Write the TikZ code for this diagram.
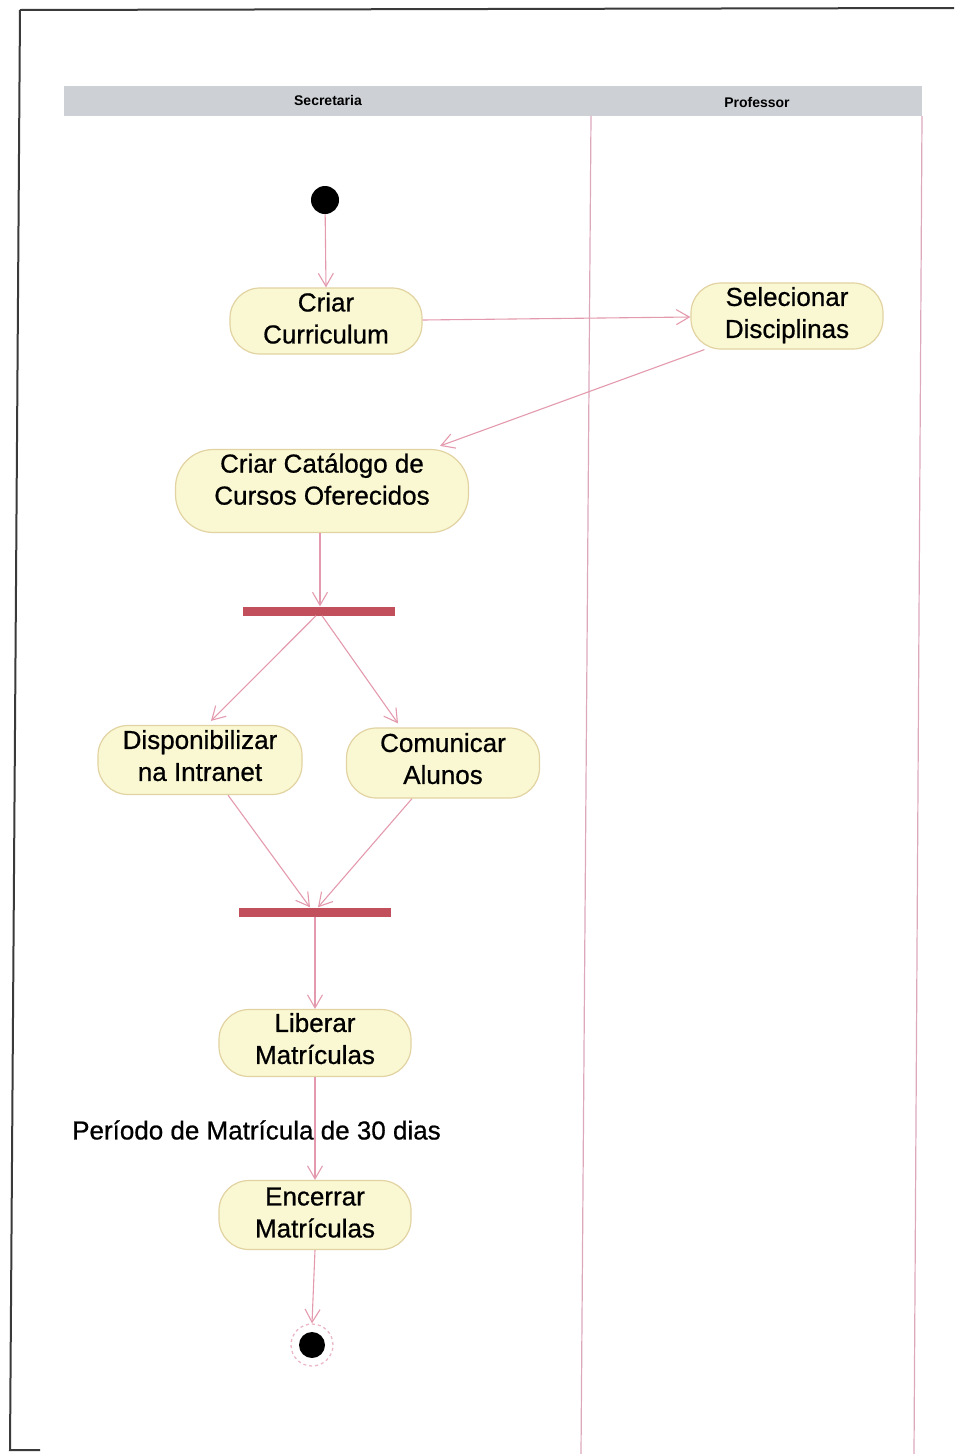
\documentclass[tikz,border=0pt]{standalone}
\usepackage{fontspec}
\setmainfont{Liberation Sans}
\newfontfamily\actfont{Liberation Sans}[FakeBold=0.7]
\usetikzlibrary{arrows.meta,calc}
\definecolor{flowline}{HTML}{E49AAE}
\definecolor{laneline}{HTML}{DDA8BC}
\definecolor{actfill}{HTML}{FAF8D2}
\definecolor{actedge}{HTML}{E2D3A2}
\definecolor{barred}{HTML}{C24F5C}
\definecolor{headgray}{HTML}{CDD1D5}
\definecolor{frame}{HTML}{3A3A3A}
\tikzset{
  actbox/.style={draw=actedge, line width=1.2pt, fill=actfill, rounded corners=30pt,
    align=center, inner sep=0pt, text depth=8pt, font=\actfont\fontsize{26}{32}\selectfont},
  syncbar/.style={fill=barred, draw=none, minimum width=152pt, minimum height=9pt, inner sep=0pt},
  flow/.style={draw=flowline, line width=1.1pt, -{Straight Barb[length=13pt,width=15pt,line width=1.1pt]}},
  lane/.style={draw=laneline, line width=1.2pt},
  lanehead/.style={font=\bfseries\fontsize{14}{16}\selectfont, inner sep=0pt},
  note/.style={font=\actfont\fontsize{26}{30}\selectfont, inner sep=0pt, anchor=west}
}
\begin{document}
\begin{tikzpicture}[x=1pt,y=-1pt]
  \useasboundingbox (0,0) rectangle (954,1454);
  \fill[white] (0,0) rectangle (954,1454);

  % sheet border
  \draw[frame, line width=2pt] (20,10) -- (954,8);
  \draw[frame, line width=2pt] (20,10) -- (10,1450) -- (40,1450);

  % swimlanes
  \fill[headgray] (64,86) rectangle (922,116);
  \node[lanehead] (laneA) at (328,100) {Secretaria};
  \node[lanehead] (laneB) at (757,102) {Professor};
  \draw[lane] (591,116) -- (581,1454);
  \draw[lane] (922,116) -- (914,1454);

  % initial node
  \node[circle, fill=black, minimum size=28pt, inner sep=0pt] (start) at (325,200) {};

  % actions
  \node[actbox, minimum width=192pt, minimum height=66pt, text depth=6pt] (curr) at (326,321) {Criar\\Curriculum};
  \node[actbox, minimum width=192pt, minimum height=66pt, text depth=7pt] (sel) at (787,316) {Selecionar\\Disciplinas};
  \node[actbox, minimum width=293pt, minimum height=83pt, rounded corners=38pt, text depth=24pt] (cat) at (322,491) {Criar Catálogo de\\Cursos Oferecidos};
  \node[syncbar] (fork) at (319,611) {};
  \node[actbox, minimum width=204pt, minimum height=69pt, text depth=9pt] (disp) at (200,760) {Disponibilizar\\na Intranet};
  \node[actbox, minimum width=193pt, minimum height=70pt, text depth=9pt] (com) at (443,763) {Comunicar\\Alunos};
  \node[syncbar] (join) at (315,912) {};
  \node[actbox, minimum width=192pt, minimum height=67pt, text depth=9pt] (lib) at (315,1043) {Liberar\\Matrículas};
  \node[actbox, minimum width=192pt, minimum height=69pt, text depth=5pt] (enc) at (315,1215) {Encerrar\\Matrículas};

  % final node
  \node[circle, draw=flowline!70, dashed, line width=1.3pt, fill=white, minimum size=42pt, inner sep=0pt] (stop) at (312,1345) {};
  \node[circle, fill=black, minimum size=26pt, inner sep=0pt] (stopdot) at (312,1345) {};

  % transitions
  \draw[flow] (start) -- (curr.north);
  \draw[flow] ($(curr.east)+(0,-1)$) -- ($(sel.west)+(0,1)$);
  \draw[flow] ($(sel.south west)+(14,0)$) -- ($(cat.north east)+(-29,-3)$);
  \draw[flow] ($(cat.south)+(-2,0)$) -- ($(fork.north)+(1,0)$);
  \draw[flow] ($(fork.south)+(-3,0)$) -- ($(disp.north)+(11,-4)$);
  \draw[flow] ($(fork.south)+(3,0)$) -- ($(com.north)+(-45,-4)$);
  \draw[flow] ($(disp.south)+(28,0)$) -- ($(join.north)+(-5,0)$);
  \draw[flow] ($(com.south)+(-31,0)$) -- ($(join.north)+(3,0)$);
  \draw[flow] (join.south) -- (lib.north);
  \draw[flow] (lib.south) -- (enc.north);
  \draw[flow] (enc.south) -- (stop.north);

  % guard note on the transition
  \node[note] (period) at (72,1130) {Período de Matrícula de 30 dias};
\end{tikzpicture}
\end{document}
